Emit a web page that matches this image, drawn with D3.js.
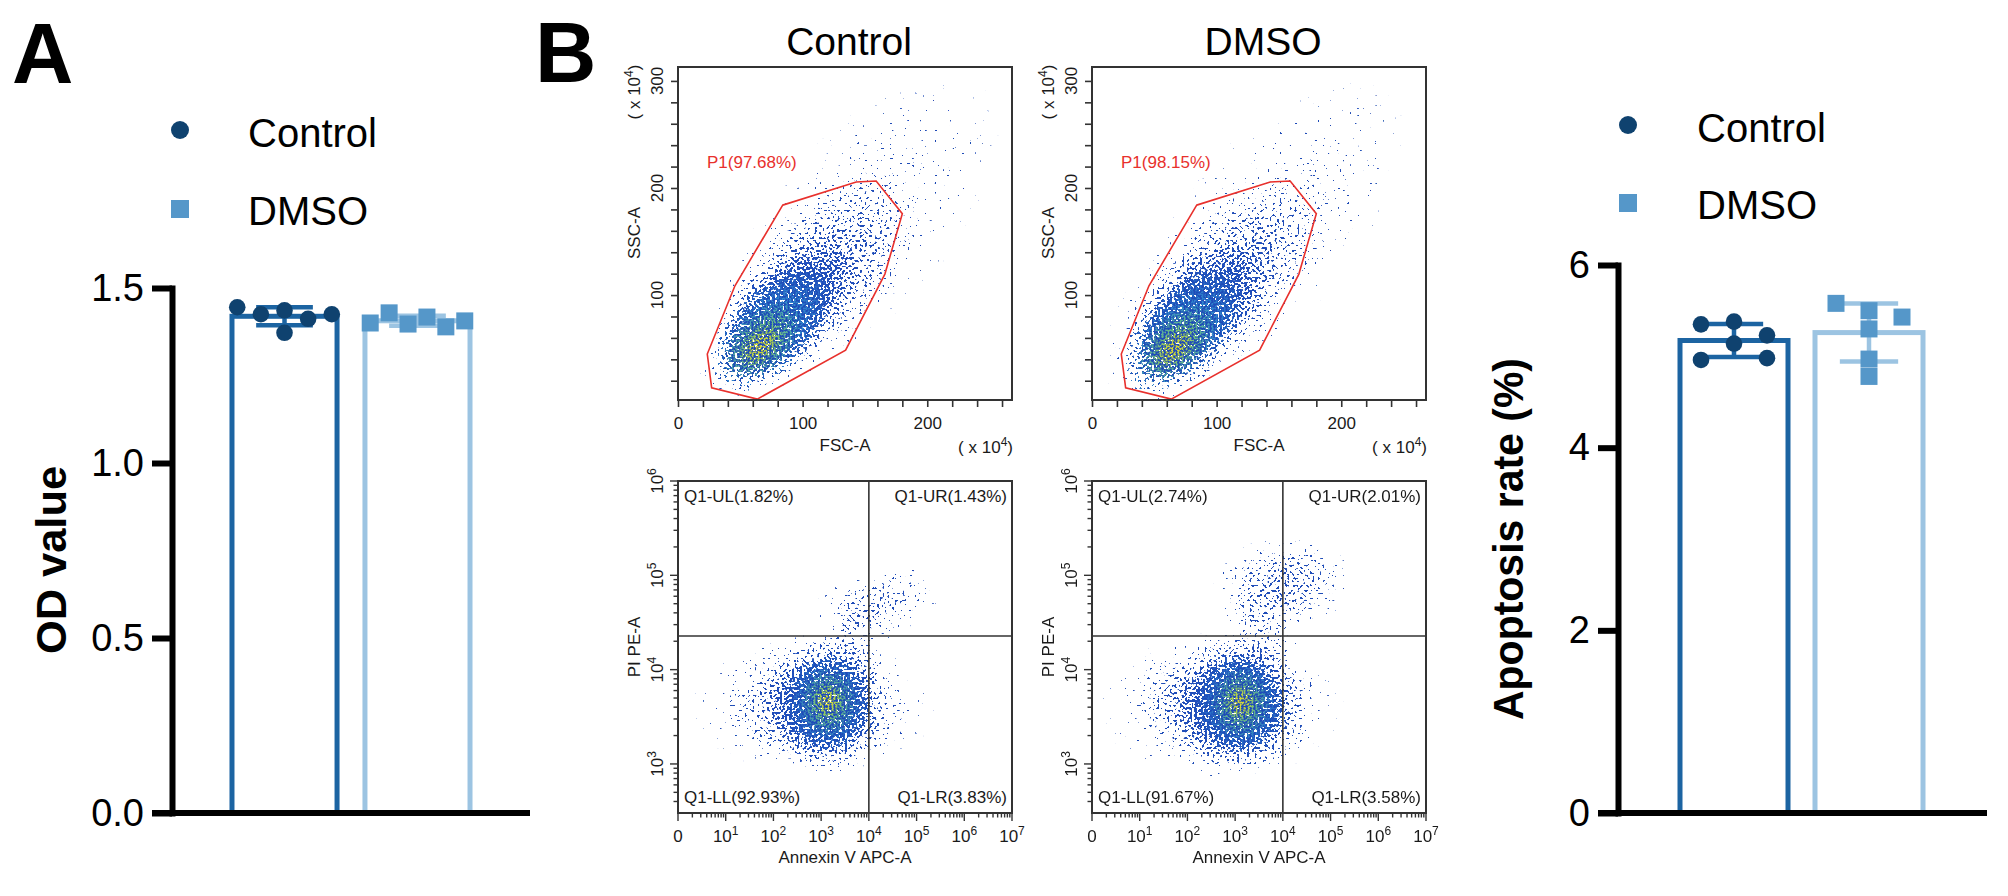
<!DOCTYPE html>
<html>
<head>
<meta charset="utf-8">
<script src="https://cdn.jsdelivr.net/npm/d3@7"></script>
<style>
  body { margin: 0; background: #fff; }
  svg { display: block; font-family: "Liberation Sans", Arial, sans-serif; }
</style>
</head>
<body>
<div id="chart"></div>
<script>
// ---- data ----
const groups = ["Control", "DMSO"]

// A: OD values, 6 replicates each
const odControl = [1.445, 1.425, 1.372, 1.436, 1.412, 1.425]
const odDmso = [1.400, 1.429, 1.397, 1.417, 1.389, 1.406]
const odTicks = [0, 0.5, 1.0, 1.5]

// B right: apoptosis rate (%)
const apoControl = [5.35, 5.38, 5.23, 4.96, 5.14, 4.98]
const apoDmso = [5.58, 5.50, 5.43, 5.30, 4.97, 4.78]
const apoTicks = [0, 2, 4, 6]

// FSC/SSC gate P1 (x10^4 units) and percentages
const gateFsc = [84, 143, 159, 180, 166, 134.5, 63.6, 27, 23.5, 45.7]
const gateSsc = [184, 205.6, 206.5, 176, 119.6, 48.6, 2.8, 13.4, 44.9, 108.7]
const p1Percent = [97.68, 98.15]
const fscTicks = [0, 20, 40, 60, 80, 100, 120, 140, 160, 180, 200, 220, 240, 260]
const fscLabels = [0, 100, 200]
const sscTicks = [20, 40, 60, 80, 100, 120, 140, 160, 180, 200, 220, 240, 260, 280, 300]
const sscLabels = [100, 200, 300]

// Annexin V / PI quadrants
const quadNames = ["UL", "UR", "LL", "LR"]
const quadControl = [1.82, 1.43, 92.93, 3.83]
const quadDmso = [2.74, 2.01, 91.67, 3.58]
const annexinGate = 1e4
const piGate = 2.27e4
const annexinDecades = [0, 1, 2, 3, 4, 5, 6, 7]
const piDecades = [3, 4, 5, 6]

// event clouds: [centre x, centre y, axis end x, axis end y, minor/major ratio, density]
const fscCloudControl = [
  [150, 170, 250, 305, 0.5, 0.14],
  [105, 108, 188, 205, 0.5, 0.46],
  [82, 80, 134, 145, 0.55, 0.72],
  [74, 66, 118, 120, 0.55, 0.78],
  [68, 57, 95, 90, 0.6, 0.87],
  [66, 52, 81, 69, 0.6, 0.95]
]
const fscCloudDmso = [
  [145, 165, 245, 300, 0.5, 0.14],
  [100, 104, 183, 202, 0.5, 0.46],
  [80, 78, 131, 141, 0.55, 0.72],
  [73, 64, 116, 118, 0.55, 0.78],
  [68, 55, 95, 88, 0.6, 0.87],
  [66, 50, 81, 67, 0.6, 0.95]
]
const annexinCloudControl = [
  [700, 4200, 400000, 4200, 0.55, 0.2],
  [14000, 50000, 400000, 89000, 0.5, 0.32],
  [5000, 20000, 5000, 60000, 0.9, 0.2],
  [900, 4300, 90000, 4300, 0.75, 0.5],
  [1300, 4300, 1300, 24000, 0.85, 0.72],
  [1400, 4400, 1400, 15000, 0.85, 0.78],
  [1400, 4500, 1400, 10500, 0.85, 0.87],
  [1350, 4600, 1350, 7000, 0.85, 0.95]
]
const annexinCloudDmso = [
  [500, 4100, 250000, 4100, 0.6, 0.22],
  [10000, 80000, 316000, 112000, 0.7, 0.4],
  [3500, 25000, 3500, 80000, 0.9, 0.25],
  [700, 4200, 70000, 4200, 0.78, 0.52],
  [1200, 4300, 1200, 24000, 0.9, 0.72],
  [1300, 4300, 1300, 15000, 0.85, 0.78],
  [1300, 4400, 1300, 10500, 0.85, 0.87],
  [1300, 4500, 1300, 7000, 0.85, 0.95]
]

// ---- colours ----
const CTRL_BAR = "#1c64a2", CTRL_PT = "#0f426f"
const DMSO_BAR = "#9cc4e2", DMSO_PT = "#5597c9"
const INK = "#1a1a1a", FRAME = "#333"
const densColor = d3.scaleLinear()
  .domain([0, 0.72, 0.78, 0.87, 0.95])
  .range(["#1d46b0", "#2456c4", "#38b2d6", "#8fcf52", "#dcd834"])

const svg = d3.select("#chart").append("svg")
  .attr("width", 2008)
  .attr("height", 896)
const defs = svg.append("defs")

// speckle filter: turns the smooth density layer into scattered events
const filt = defs.append("filter")
  .attr("id", "speckle")
  .attr("filterUnits", "userSpaceOnUse")
  .attr("x", 0).attr("y", 0).attr("width", 2008).attr("height", 896)
  .attr("color-interpolation-filters", "sRGB")
filt.append("feTurbulence").attr("type", "fractalNoise").attr("baseFrequency", 0.4)
  .attr("numOctaves", 1).attr("seed", 11).attr("result", "noise")
filt.append("feColorMatrix").attr("in", "noise").attr("type", "matrix")
  .attr("values", "0 0 0 0 0  0 0 0 0 0  0 0 0 0 0  2.2 0 0 0 -0.55").attr("result", "na")
filt.append("feComposite").attr("in", "SourceAlpha").attr("in2", "na").attr("operator", "arithmetic")
  .attr("k1", 0).attr("k2", 30).attr("k3", -30).attr("k4", -0.3).attr("result", "mask")
filt.append("feTurbulence").attr("type", "fractalNoise").attr("baseFrequency", 0.5)
  .attr("numOctaves", 1).attr("seed", 4).attr("result", "noise2")
filt.append("feColorMatrix").attr("in", "noise2").attr("type", "matrix")
  .attr("values", "0 0 0 0 0  0 0 0 0 0  0 0 0 0 0  10 0 0 0 -4.6").attr("result", "m2")
filt.append("feColorMatrix").attr("in", "SourceGraphic").attr("type", "matrix")
  .attr("values", "1 0 0 0 0  0 1 0 0 0  0 0 1 0 0  0 0 0 60 0").attr("result", "solid")
filt.append("feFlood").attr("flood-color", "#1f4cb8").attr("result", "blue")
filt.append("feComposite").attr("in", "blue").attr("in2", "mask").attr("operator", "in").attr("result", "blueDots")
filt.append("feComposite").attr("in", "solid").attr("in2", "mask").attr("operator", "in").attr("result", "colDots")
filt.append("feComposite").attr("in", "colDots").attr("in2", "m2").attr("operator", "in").attr("result", "colDots2")
const merge = filt.append("feMerge")
merge.append("feMergeNode").attr("in", "blueDots")
merge.append("feMergeNode").attr("in", "colDots2")

// panel letters
svg.append("text").attr("x", 12).attr("y", 83).attr("font-size", "85px")
  .attr("font-weight", "bold").text("A")
svg.append("text").attr("x", 535).attr("y", 82).attr("font-size", "85px")
  .attr("font-weight", "bold").text("B")

// ---- bar + scatter panels ----
function swarm(values, y, cx, bw, dia) {
  const pts = values.map((v, i) => ({ v, i, py: y(v) }))
  const rows = []
  let cur = null
  ;[...pts].sort((a, b) => a.py - b.py).forEach(p => {
    if (!cur || p.py - cur.start >= dia) { cur = { start: p.py, items: [] }; rows.push(cur) }
    cur.items.push(p)
  })
  rows.forEach(r => {
    const n = r.items.length
    const step = n > 1 ? Math.min(33, bw * 0.9 / (n - 1)) : 0
    r.items.sort((a, b) => a.i - b.i).forEach((p, k) => { p.px = cx + (k - (n - 1) / 2) * step })
  })
  return pts
}

function barPanel(cfg) {
  const g = svg.append("g")
  const y = cfg.y
  const x = d3.scaleBand().domain(groups).range(cfg.band)
    .paddingInner(cfg.padIn).paddingOuter(0.5)
  const sets = [cfg.ctrl, cfg.dmso]
  const barCol = [CTRL_BAR, DMSO_BAR], ptCol = [CTRL_PT, DMSO_PT]

  groups.forEach((name, gi) => {
    const vals = sets[gi]
    const mean = d3.mean(vals), sd = d3.deviation(vals)
    const x0 = x(name), bw = x.bandwidth(), cx = x0 + bw / 2
    g.append("rect")
      .attr("x", x0).attr("y", y(mean))
      .attr("width", bw).attr("height", y(0) - y(mean))
      .attr("fill", "#fff").attr("stroke", barCol[gi]).attr("stroke-width", 5)
    const hw = bw * 0.27
    const eb = g.append("g").attr("stroke", barCol[gi]).attr("stroke-width", 4.5)
    eb.append("line").attr("x1", cx).attr("x2", cx).attr("y1", y(mean + sd)).attr("y2", y(mean - sd))
    eb.append("line").attr("x1", cx - hw).attr("x2", cx + hw).attr("y1", y(mean + sd)).attr("y2", y(mean + sd))
    eb.append("line").attr("x1", cx - hw).attr("x2", cx + hw).attr("y1", y(mean - sd)).attr("y2", y(mean - sd))

    const pts = swarm(vals, y, cx, bw, 17)
    if (gi === 0) {
      g.selectAll(null).data(pts).enter().append("circle")
        .attr("cx", d => d.px).attr("cy", d => d.py).attr("r", 8.3).attr("fill", ptCol[gi])
    } else {
      g.selectAll(null).data(pts).enter().append("rect")
        .attr("x", d => d.px - 8.5).attr("y", d => d.py - 8.5)
        .attr("width", 17).attr("height", 17).attr("fill", ptCol[gi])
    }
  })

  // axes
  const yAxis = d3.axisLeft(y).tickValues(cfg.ticks).tickFormat(cfg.fmt)
    .tickSize(20).tickSizeOuter(0).tickPadding(8)
  const ag = g.append("g").attr("transform", `translate(${cfg.axisX},0)`).call(yAxis)
  ag.select(".domain").attr("stroke", "#000").attr("stroke-width", 6).attr("stroke-linecap", "square")
  ag.selectAll(".tick line").attr("stroke", "#000").attr("stroke-width", 6)
  ag.selectAll(".tick text").attr("font-size", "38px").attr("fill", "#000")
    .attr("font-family", "'Liberation Sans', Arial, sans-serif")
  g.append("line").attr("x1", cfg.axisX - 20).attr("x2", cfg.xEnd)
    .attr("y1", y(0)).attr("y2", y(0)).attr("stroke", "#000").attr("stroke-width", 6)

  g.append("text")
    .attr("transform", `translate(${cfg.labelX},${cfg.labelY}) rotate(-90)`)
    .attr("text-anchor", "middle").attr("font-size", "43px").attr("font-weight", "bold")
    .attr("textLength", cfg.labelLen).attr("lengthAdjust", "spacingAndGlyphs")
    .text(cfg.label)

  // legend
  const L = cfg.legend
  g.append("circle").attr("cx", L.x).attr("cy", L.y1).attr("r", 9).attr("fill", CTRL_PT)
  g.append("rect").attr("x", L.x - 9).attr("y", L.y2 - 9).attr("width", 18).attr("height", 18).attr("fill", DMSO_PT)
  g.append("text").attr("x", L.tx).attr("y", L.y1 + 17).attr("font-size", "40px").text(groups[0])
  g.append("text").attr("x", L.tx).attr("y", L.y2 + 16).attr("font-size", "40px").text(groups[1])
}

barPanel({
  y: d3.scaleLinear().domain([0, 1.5]).range([813, 288]),
  band: [165.5, 536.5], padIn: 0.21,
  ctrl: odControl, dmso: odDmso,
  ticks: odTicks, fmt: d3.format(".1f"),
  axisX: 172, xEnd: 530,
  label: "OD value", labelX: 66, labelY: 560, labelLen: 188,
  legend: { x: 180, y1: 130, y2: 209, tx: 248 }
})

barPanel({
  y: d3.scaleLinear().domain([0, 6]).range([813, 265]),
  band: [1612.5, 1990.5], padIn: 0.2,
  ctrl: apoControl, dmso: apoDmso,
  ticks: apoTicks, fmt: d3.format("d"),
  axisX: 1618, xEnd: 1987,
  label: "Apoptosis rate (%)", labelX: 1523, labelY: 539, labelLen: 362,
  legend: { x: 1628, y1: 125, y2: 203, tx: 1697 }
})

// ---- flow cytometry panels ----
function cloud(g, clusters, xs, ys, idp) {
  const inner = g.append("g").attr("filter", "url(#speckle)")
  clusters.forEach((c, i) => {
    const [cx, cy, ex, ey, ratio, w] = c
    const px = xs(cx), py = ys(cy), qx = xs(ex), qy = ys(ey)
    const len = Math.hypot(qx - px, qy - py)
    const ang = Math.atan2(qy - py, qx - px) * 180 / Math.PI
    const id = idp + i
    const col = densColor(w)
    const grad = defs.append("radialGradient").attr("id", id)
    ;[[0, 1], [0.25, 0.9], [0.5, 0.6], [0.75, 0.25], [1, 0]].forEach(s => {
      grad.append("stop").attr("offset", s[0]).attr("stop-color", col).attr("stop-opacity", w * s[1])
    })
    inner.append("ellipse").attr("rx", len).attr("ry", len * ratio)
      .attr("transform", `translate(${px},${py}) rotate(${ang})`)
      .attr("fill", `url(#${id})`)
  })
}

function supText(sel, base, sup, tail) {
  sel.append("tspan").text(base)
  sel.append("tspan").attr("dy", -7).attr("font-size", "12px").text(sup)
  if (tail) sel.append("tspan").attr("dy", 7).text(tail)
}

function flowTop(fx, gi, clusters) {
  const x = d3.scaleLinear().domain([0, 268]).range([fx, fx + 334])
  const y = d3.scaleLinear().domain([2, 313]).range([400, 67])
  const g = svg.append("g")
  const cid = "clipT" + gi
  defs.append("clipPath").attr("id", cid).append("rect")
    .attr("x", fx).attr("y", 67).attr("width", 334).attr("height", 333)
  cloud(g.append("g").attr("clip-path", `url(#${cid})`), clusters, x, y, "gT" + gi + "_")

  // gate P1
  const line = d3.line().x(d => x(d[0])).y(d => y(d[1])).curve(d3.curveLinearClosed)
  g.append("path").datum(gateFsc.map((v, i) => [v, gateSsc[i]])).attr("d", line)
    .attr("fill", "none").attr("stroke", "#e8302c").attr("stroke-width", 1.6)
  g.append("text").attr("x", fx + 29).attr("y", 168).attr("font-size", "17px")
    .attr("fill", "#e8302c").text(`P1(${p1Percent[gi].toFixed(2)}%)`)

  g.append("rect").attr("x", fx).attr("y", 67).attr("width", 334).attr("height", 333)
    .attr("fill", "none").attr("stroke", FRAME).attr("stroke-width", 2)

  const xa = g.append("g").attr("transform", "translate(0,400)")
    .call(d3.axisBottom(x).tickValues(fscTicks).tickSize(7).tickPadding(10)
      .tickFormat(d => fscLabels.includes(d) ? d : ""))
  xa.select(".domain").remove()
  xa.selectAll(".tick line").attr("stroke", FRAME).attr("stroke-width", 1.6)
  xa.selectAll(".tick text").attr("font-size", "17px").attr("fill", INK)
    .attr("font-family", "'Liberation Sans', Arial, sans-serif")

  const ya = g.append("g").attr("transform", `translate(${fx},0)`)
    .call(d3.axisLeft(y).tickValues(sscTicks).tickSize(7).tickFormat(""))
  ya.select(".domain").remove()
  ya.selectAll(".tick line").attr("stroke", FRAME).attr("stroke-width", 1.6)
  sscLabels.forEach(v => {
    g.append("text").attr("transform", `translate(${fx - 15},${y(v)}) rotate(-90)`)
      .attr("text-anchor", "middle").attr("font-size", "17px").attr("fill", INK).text(v)
  })

  g.append("text").attr("x", fx + 167).attr("y", 451).attr("text-anchor", "middle")
    .attr("font-size", "17px").attr("fill", INK).text("FSC-A")
  supText(g.append("text").attr("x", fx + 335).attr("y", 453).attr("text-anchor", "end")
    .attr("font-size", "17px").attr("fill", INK), "( x 10", "4", ")")
  g.append("text").attr("transform", `translate(${fx - 38},233) rotate(-90)`)
    .attr("text-anchor", "middle").attr("font-size", "17px").attr("fill", INK).text("SSC-A")
  supText(g.append("text").attr("transform", `translate(${fx - 38},92) rotate(-90)`)
    .attr("text-anchor", "middle").attr("font-size", "17px").attr("fill", INK), "( x 10", "4", ")")

  g.append("text").attr("x", fx + 171).attr("y", 55).attr("text-anchor", "middle")
    .attr("font-size", "39px").attr("fill", "#000").text(groups[gi])
}

function flowBottom(fx, gi, clusters, quads) {
  const x = d3.scaleLog().domain([1, 1e7]).range([fx, fx + 334])
  const y = d3.scaleLog().domain([302, 1e6]).range([813, 481])
  const g = svg.append("g")
  const cid = "clipB" + gi
  defs.append("clipPath").attr("id", cid).append("rect")
    .attr("x", fx).attr("y", 481).attr("width", 334).attr("height", 332)
  cloud(g.append("g").attr("clip-path", `url(#${cid})`), clusters, x, y, "gB" + gi + "_")

  g.append("line").attr("x1", x(annexinGate)).attr("x2", x(annexinGate))
    .attr("y1", 481).attr("y2", 813).attr("stroke", FRAME).attr("stroke-width", 1.6)
  g.append("line").attr("x1", fx).attr("x2", fx + 334)
    .attr("y1", y(piGate)).attr("y2", y(piGate)).attr("stroke", FRAME).attr("stroke-width", 1.6)

  g.append("rect").attr("x", fx).attr("y", 481).attr("width", 334).attr("height", 332)
    .attr("fill", "none").attr("stroke", FRAME).attr("stroke-width", 2)

  // log ticks
  const xt = []
  for (let k = 0; k < 7; k++) for (let m = 1; m < 10; m++) xt.push({ v: m * Math.pow(10, k), major: m === 1 })
  xt.push({ v: 1e7, major: true })
  g.selectAll(null).data(xt).enter().append("line")
    .attr("x1", d => x(d.v)).attr("x2", d => x(d.v))
    .attr("y1", 813).attr("y2", d => 813 + (d.major ? 8 : 4.5))
    .attr("stroke", FRAME).attr("stroke-width", 1.4)
  const yt = []
  for (let k = 2; k < 6; k++) for (let m = 1; m < 10; m++) {
    const v = m * Math.pow(10, k)
    if (v >= 302) yt.push({ v, major: m === 1 })
  }
  yt.push({ v: 1e6, major: true })
  g.selectAll(null).data(yt).enter().append("line")
    .attr("x1", fx).attr("x2", d => fx - (d.major ? 8 : 4.5))
    .attr("y1", d => y(d.v)).attr("y2", d => y(d.v))
    .attr("stroke", FRAME).attr("stroke-width", 1.4)

  annexinDecades.forEach(k => {
    const t = g.append("text").attr("x", x(Math.pow(10, k))).attr("y", 842)
      .attr("text-anchor", "middle").attr("font-size", "17px").attr("fill", INK)
    if (k === 0) t.text("0"); else supText(t, "10", k)
  })
  piDecades.forEach(k => {
    const t = g.append("text").attr("transform", `translate(${fx - 15},${y(Math.pow(10, k))}) rotate(-90)`)
      .attr("text-anchor", "middle").attr("font-size", "17px").attr("fill", INK)
    supText(t, "10", k)
  })

  g.append("text").attr("x", fx + 167).attr("y", 863).attr("text-anchor", "middle")
    .attr("font-size", "17px").attr("fill", INK).text("Annexin V APC-A")
  g.append("text").attr("transform", `translate(${fx - 38},647) rotate(-90)`)
    .attr("text-anchor", "middle").attr("font-size", "17px").attr("fill", INK).text("PI PE-A")

  const qpos = [[fx + 6, 502, "start"], [fx + 329, 502, "end"], [fx + 6, 803, "start"], [fx + 329, 803, "end"]]
  quadNames.forEach((q, i) => {
    g.append("text").attr("x", qpos[i][0]).attr("y", qpos[i][1]).attr("text-anchor", qpos[i][2])
      .attr("font-size", "17px").attr("fill", INK).text(`Q1-${q}(${quads[i].toFixed(2)}%)`)
  })
}

flowTop(678, 0, fscCloudControl)
flowTop(1092, 1, fscCloudDmso)
flowBottom(678, 0, annexinCloudControl, quadControl)
flowBottom(1092, 1, annexinCloudDmso, quadDmso)
</script>
</body>
</html>
